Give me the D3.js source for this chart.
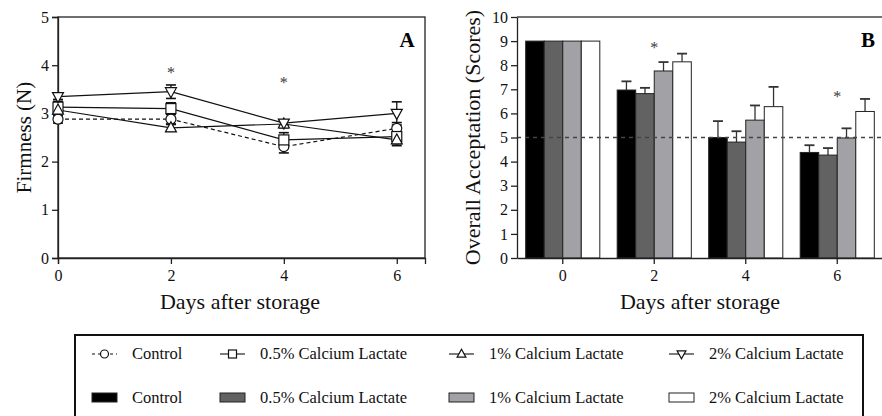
<!DOCTYPE html>
<html>
<head>
<meta charset="utf-8">
<script src="https://cdn.jsdelivr.net/npm/d3@7"></script>
<style>
body { margin:0; background:#fff; }
svg { font-family: "Liberation Serif", "Times New Roman", serif; }
</style>
</head>
<body>
<div id="chart"></div>
<script>
// data
var days = [0, 2, 4, 6];
var seriesNames = ["Control", "0.5% Calcium Lactate", "1% Calcium Lactate", "2% Calcium Lactate"];

// panel A: firmness (N)
var firmControl = [2.88, 2.88, 2.31, 2.69];
var firmHalf = [3.13, 3.1, 2.45, 2.52];
var firmOne = [3.07, 2.7, 2.78, 2.45];
var firmTwo = [3.35, 3.45, 2.8, 3.0];
var firmControlSd = [0.08, 0.1, 0.13, 0.12];
var firmHalfSd = [0.12, 0.12, 0.15, 0.15];
var firmOneSd = [0.05, 0.07, 0.08, 0.12];
var firmTwoSd = [0.06, 0.14, 0.06, 0.24];
var firmStars = [2, 4];
var firmStarY = [3.9, 3.7];

// panel B: overall acceptation
var accControl = [9, 6.97, 5.0, 4.38];
var accHalf = [9, 6.82, 4.81, 4.27];
var accOne = [9, 7.76, 5.72, 4.98];
var accTwo = [9, 8.14, 6.28, 6.08];
var accControlSd = [0, 0.36, 0.68, 0.3];
var accHalfSd = [0, 0.24, 0.45, 0.29];
var accOneSd = [0, 0.37, 0.61, 0.4];
var accTwoSd = [0, 0.34, 0.82, 0.52];
var accStars = [2, 6];
var accStarY = [8.85, 6.8];
var accLimit = 5;

var yTicksA = [0, 1, 2, 3, 4, 5];
var yTicksB = [0, 1, 2, 3, 4, 5, 6, 7, 8, 9, 10];

var svg = d3.select("#chart").append("svg")
    .attr("width", 882)
    .attr("height", 416);

function styleAxis(g) {
    g.select(".domain").attr("stroke", "#222").attr("stroke-width", 1.3);
    g.selectAll(".tick line").attr("stroke", "#222").attr("stroke-width", 1.3);
    g.selectAll("text").style("font-family", "Liberation Serif").style("font-size", "16px").attr("fill", "#111");
}

// ---------- panel A ----------
var xA = d3.scaleLinear().domain([0, 6.5]).range([58, 425]);
var yA = d3.scaleLinear().domain([0, 5]).range([258, 17]);

svg.append("rect")
    .attr("x", xA(0)).attr("y", yA(5))
    .attr("width", xA(6.5) - xA(0)).attr("height", yA(0) - yA(5))
    .attr("fill", "none").attr("stroke", "#222").attr("stroke-width", 1.3);

var axA = svg.append("g")
    .attr("transform", "translate(0," + yA(0) + ")")
    .call(d3.axisBottom(xA).tickValues(days).tickFormat(d3.format("d")).tickSize(6).tickPadding(6));
var ayA = svg.append("g")
    .attr("transform", "translate(" + xA(0) + ",0)")
    .call(d3.axisLeft(yA).tickValues(yTicksA).tickFormat(d3.format("d")).tickSize(6).tickPadding(3));
styleAxis(axA);
styleAxis(ayA);

var firmData = [
    {vals: firmControl, sd: firmControlSd, shape: "circle", dash: "4,3"},
    {vals: firmHalf, sd: firmHalfSd, shape: "square", dash: null},
    {vals: firmOne, sd: firmOneSd, shape: "up", dash: null},
    {vals: firmTwo, sd: firmTwoSd, shape: "down", dash: null}
];

function drawMarker(g, shape, cx, cy, r) {
    var m;
    if (shape == "circle") {
        m = g.append("circle").attr("cx", cx).attr("cy", cy).attr("r", r);
    } else if (shape == "square") {
        m = g.append("rect").attr("x", cx - r).attr("y", cy - r).attr("width", 2 * r).attr("height", 2 * r);
    } else if (shape == "up") {
        m = g.append("path").attr("d", "M" + cx + "," + (cy - r * 1.2) + "L" + (cx + r * 1.1) + "," + (cy + r * 0.8) + "L" + (cx - r * 1.1) + "," + (cy + r * 0.8) + "Z");
    } else {
        m = g.append("path").attr("d", "M" + cx + "," + (cy + r * 1.2) + "L" + (cx + r * 1.1) + "," + (cy - r * 0.8) + "L" + (cx - r * 1.1) + "," + (cy - r * 0.8) + "Z");
    }
    m.attr("fill", "#fff").attr("stroke", "#111").attr("stroke-width", 1.2);
}

var line = d3.line()
    .x(function(d, i) { return xA(days[i]); })
    .y(function(d) { return yA(d); });

var gA = svg.append("g");
firmData.forEach(function(s) {
    // error bars
    s.vals.forEach(function(v, i) {
        var cx = xA(days[i]);
        var lo = yA(v - s.sd[i]), hi = yA(v + s.sd[i]);
        gA.append("line").attr("x1", cx).attr("x2", cx).attr("y1", lo).attr("y2", hi)
            .attr("stroke", "#111").attr("stroke-width", 1.3);
        gA.append("line").attr("x1", cx - 5).attr("x2", cx + 5).attr("y1", lo).attr("y2", lo)
            .attr("stroke", "#111").attr("stroke-width", 1.6);
        gA.append("line").attr("x1", cx - 5).attr("x2", cx + 5).attr("y1", hi).attr("y2", hi)
            .attr("stroke", "#111").attr("stroke-width", 1.6);
    });
    gA.append("path").datum(s.vals)
        .attr("d", line)
        .attr("fill", "none").attr("stroke", "#111").attr("stroke-width", 1.2)
        .attr("stroke-dasharray", s.dash);
});
firmData.forEach(function(s) {
    s.vals.forEach(function(v, i) {
        drawMarker(gA, s.shape, xA(days[i]), yA(v), 5);
    });
});

firmStars.forEach(function(d, i) {
    svg.append("text").attr("x", xA(d)).attr("y", yA(firmStarY[i]) + 8)
        .attr("text-anchor", "middle").style("font-size", "16px").attr("fill", "#3a3a3a").text("*");
});

svg.append("text").attr("x", 407).attr("y", 47).attr("text-anchor", "middle")
    .style("font-size", "21px").style("font-weight", "bold").text("A");

svg.append("text")
    .attr("transform", "translate(31," + ((yA(0) + yA(5)) / 2) + ") rotate(-90)")
    .attr("text-anchor", "middle").style("font-size", "21px").attr("fill", "#111")
    .text("Firmness (N)");
svg.append("text").attr("x", 240).attr("y", 309).attr("text-anchor", "middle")
    .style("font-size", "22px").attr("fill", "#111").text("Days after storage");

// ---------- panel B ----------
var xB = d3.scaleBand().domain(days).range([517, 883]).paddingInner(0.19).paddingOuter(0.095);
var xSub = d3.scaleBand().domain(d3.range(4)).range([0, xB.bandwidth()]);
var yB = d3.scaleLinear().domain([0, 10]).range([258, 17]);

svg.append("line").attr("x1", 517).attr("x2", 882).attr("y1", yB(10)).attr("y2", yB(10))
    .attr("stroke", "#444").attr("stroke-width", 1.3);

var accData = [
    {vals: accControl, sd: accControlSd, fill: "#000"},
    {vals: accHalf, sd: accHalfSd, fill: "#626262"},
    {vals: accOne, sd: accOneSd, fill: "#a2a2a6"},
    {vals: accTwo, sd: accTwoSd, fill: "#fff"}
];

var gB = svg.append("g");
accData.forEach(function(s, k) {
    s.vals.forEach(function(v, i) {
        var bx = xB(days[i]) + xSub(k);
        var cx = bx + xSub.bandwidth() / 2;
        if (s.sd[i] > 0) {
            var top = yB(v + s.sd[i]);
            gB.append("line").attr("x1", cx).attr("x2", cx).attr("y1", yB(v)).attr("y2", top)
                .attr("stroke", "#333").attr("stroke-width", 1.3);
            gB.append("line").attr("x1", cx - 5).attr("x2", cx + 5).attr("y1", top).attr("y2", top)
                .attr("stroke", "#333").attr("stroke-width", 1.8);
        }
        gB.append("rect")
            .attr("x", bx).attr("y", yB(v))
            .attr("width", xSub.bandwidth()).attr("height", yB(0) - yB(v))
            .attr("fill", s.fill).attr("stroke", "#222").attr("stroke-width", 1);
    });
});

svg.append("line").attr("x1", 517).attr("x2", 882).attr("y1", yB(accLimit)).attr("y2", yB(accLimit))
    .attr("stroke", "#444").attr("stroke-width", 1.3).attr("stroke-dasharray", "4,4");

var axB = svg.append("g")
    .attr("transform", "translate(0," + yB(0) + ")")
    .call(d3.axisBottom(xB).tickSize(6).tickPadding(6).tickSizeOuter(0));
var ayB = svg.append("g")
    .attr("transform", "translate(517,0)")
    .call(d3.axisLeft(yB).tickValues(yTicksB).tickFormat(d3.format("d")).tickSize(6).tickPadding(3).tickSizeOuter(0));
styleAxis(axB);
styleAxis(ayB);

accStars.forEach(function(d, i) {
    svg.append("text").attr("x", xB(d) + xB.bandwidth() / 2).attr("y", yB(accStarY[i]) + 8)
        .attr("text-anchor", "middle").style("font-size", "16px").attr("fill", "#3a3a3a").text("*");
});

svg.append("text").attr("x", 868).attr("y", 47).attr("text-anchor", "middle")
    .style("font-size", "21px").style("font-weight", "bold").text("B");

svg.append("text")
    .attr("transform", "translate(480," + ((yB(0) + yB(10)) / 2) + ") rotate(-90)")
    .attr("text-anchor", "middle").style("font-size", "22px").attr("fill", "#111")
    .text("Overall Acceptation (Scores)");
svg.append("text").attr("x", 700).attr("y", 309).attr("text-anchor", "middle")
    .style("font-size", "22px").attr("fill", "#111").text("Days after storage");

// ---------- legend ----------
var legX = [92, 220, 449, 669];
var lineShapes = ["circle", "square", "up", "down"];
var barFills = ["#000", "#626262", "#a2a2a6", "#fff"];

svg.append("rect").attr("x", 75).attr("y", 335).attr("width", 788).attr("height", 90)
    .attr("fill", "none").attr("stroke", "#111").attr("stroke-width", 2);

var leg = svg.append("g");
seriesNames.forEach(function(name, i) {
    var x0 = legX[i];
    var ly = 354;
    leg.append("line").attr("x1", x0).attr("x2", x0 + 25).attr("y1", ly).attr("y2", ly)
        .attr("stroke", "#111").attr("stroke-width", 1.1)
        .attr("stroke-dasharray", i == 0 ? "3,3" : null);
    drawMarker(leg, lineShapes[i], x0 + 12.5, ly, 4);
    leg.append("text").attr("x", x0 + 40).attr("y", ly + 5).style("font-size", "16.5px")
        .attr("fill", "#111").text(name);

    var by = 398;
    leg.append("rect").attr("x", x0).attr("y", by - 5).attr("width", 25).attr("height", 9)
        .attr("fill", barFills[i]).attr("stroke", "#222").attr("stroke-width", 1);
    leg.append("text").attr("x", x0 + 40).attr("y", by + 5).style("font-size", "16.5px")
        .attr("fill", "#111").text(name);
});
</script>
</body>
</html>
